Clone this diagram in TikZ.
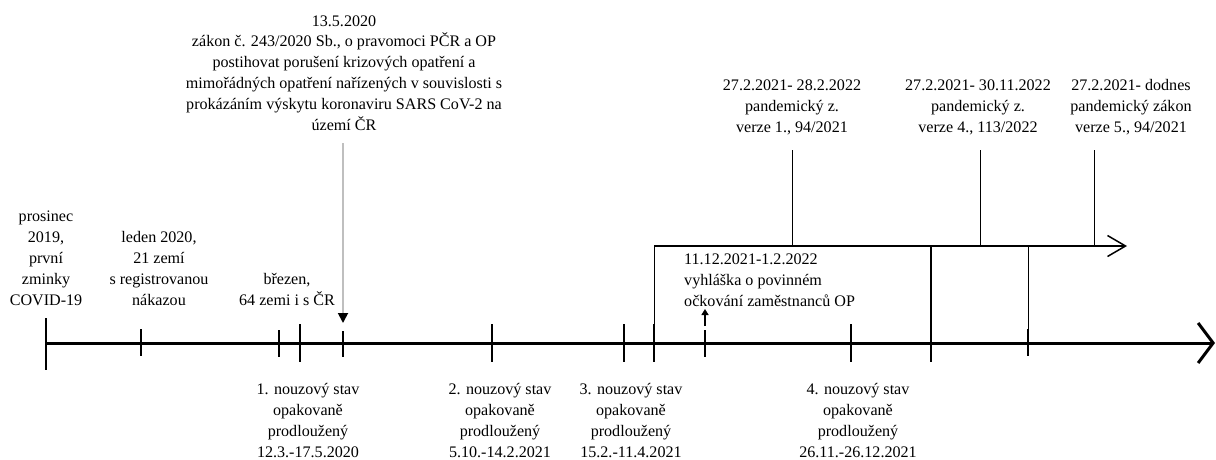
\documentclass[tikz,border=0pt]{standalone}
\usepackage{fontspec}
\setmainfont{Liberation Serif}
\usepackage{tikz}
\usetikzlibrary{arrows.meta}

\tikzset{
  txt/.style={align=center, inner sep=0pt, anchor=base, font=\fontsize{16.1}{20.8}\selectfont},
  axis/.style={line width=3pt},
  tick/.style={line width=2.5pt},
  thinln/.style={line width=1pt}
}

\begin{document}
\begin{tikzpicture}[x=1pt,y=-1pt]
\useasboundingbox (0,0) rectangle (1216,459);
% main time axis
\coordinate (s) at (46,343);
\coordinate (e) at (1215,343);
\draw[axis, -{Straight Barb[length=15pt,width=40pt]}] (s)--(e);

% ticks
\draw[tick] (46,318)--(46,370);
\draw[tick] (141,329)--(141,356);
\draw[tick] (279,330)--(279,357);
\draw[tick] (300,324)--(300,362);
\draw[tick] (343,331)--(343,357);
\draw[tick] (492,324)--(492,362);
\draw[tick] (624,324)--(624,362);
\draw[tick] (654,324)--(654,362);
\draw[tick] (705,330)--(705,357);
\draw[tick] (851,324)--(851,362);
\draw[tick] (931,324)--(931,362);
\draw[tick] (1028,329)--(1028,356);

% pandemic law line
\coordinate (p0) at (654,246);
\coordinate (p1) at (1127,246);
\draw[line width=1.5pt, -{Straight Barb[length=18pt,width=21pt]}] (p0)--(p1);
\draw[thinln] (p0)--(654,343);
\draw[line width=1.8pt] (931,246)--(931,343);
\draw[thinln] (1028,246)--(1028,343);

% labels above the axis
\node[txt] (prosinec) at (46,305) {prosinec\\2019,\\první\\zminky\\COVID-19};
\node[txt] (leden) at (159,305) {leden 2020,\\21 zemí\\s registrovanou\\nákazou};
\node[txt] (brezen) at (287,305) {březen,\\64 zemi i s ČR};
\node[txt] (zakon) at (344,130) {13.5.2020\\zákon č. 243/2020 Sb., o pravomoci PČR a OP\\postihovat porušení krizových opatření a\\mimořádných opatření nařízených v souvislosti s\\prokázáním výskytu koronaviru SARS CoV-2 na\\území ČR};
\draw[line width=1.8pt, gray!50, -{Triangle[black,length=10pt,width=10pt]}] (343,143)--(343,323);

\node[txt] (pz1) at (792,132) {27.2.2021- 28.2.2022\\pandemický z.\\verze 1., 94/2021};
\node[txt] (pz4) at (978,132) {27.2.2021- 30.11.2022\\pandemický z.\\verze 4., 113/2022};
\node[txt] (pz5) at (1131,132) {27.2.2021- dodnes\\pandemický zákon\\verze 5., 94/2021};
\draw[thinln] (792,150)--(792,246);
\draw[thinln] (980,150)--(980,246);
\draw[thinln] (1094,150)--(1094,246);

\node[txt, align=left, anchor=base west] (vyhl) at (684,306) {11.12.2021-1.2.2022\\vyhláška o povinném\\očkování zaměstnanců OP};
\draw[line width=1.5pt, -{Triangle[length=6pt,width=7pt]}] (705,326)--(705,309);

% labels below the axis
\node[txt] (ns1) at (308,457) {1. nouzový stav\\opakovaně\\prodloužený\\12.3.-17.5.2020};
\node[txt] (ns2) at (500,457) {2. nouzový stav\\opakovaně\\prodloužený\\5.10.-14.2.2021};
\node[txt] (ns3) at (631,457) {3. nouzový stav\\opakovaně\\prodloužený\\15.2.-11.4.2021};
\node[txt] (ns4) at (858,457) {4. nouzový stav\\opakovaně\\prodloužený\\26.11.-26.12.2021};
\end{tikzpicture}
\end{document}
